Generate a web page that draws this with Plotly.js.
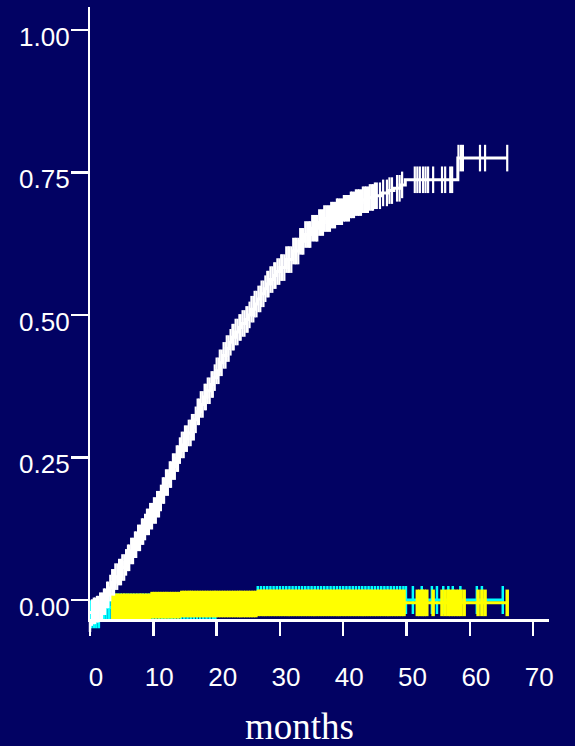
<!DOCTYPE html>
<html>
<head>
<meta charset="utf-8">
<script src="https://cdn.plot.ly/plotly-3.0.1.min.js"></script>
<style>html,body{margin:0;padding:0;background:#020263;}#chart{width:575px;height:746px;}</style>
</head>
<body>
<div id="chart"></div>
<script>
// ---- data ----
const xTicks = [0, 10, 20, 30, 40, 50, 60, 70];
const yTicks = [0, 0.25, 0.5, 0.75, 1];
const yTickLabels = ["0.00", "0.25", "0.50", "0.75", "1.00"];
const xTitle = "months";

// white curve (step function)
const whiteT = [0,0.5,1,1.5,2,2.5,3,3.5,4,4.5,5,5.5,6,6.5,7,7.5,8,8.5,9,9.5,10,10.5,11,11.5,12,12.5,13,13.5,14,14.5,15,15.5,16,16.5,17,17.5,18,18.5,19,19.5,20,20.5,21,21.5,22,22.5,23,23.5,24,24.5,25,25.5,26,26.5,27,27.5,28,28.5,29,29.5,30,31,32,33,34,35,36,37,38,39,40,41,42,43,44,45,46,47,48,49,49.8,58.1,65.9];
const whiteV = [-0.022,-0.019,-0.016,-0.010,-0.003,0.009,0.021,0.031,0.041,0.049,0.057,0.066,0.074,0.086,0.097,0.109,0.120,0.128,0.137,0.147,0.157,0.168,0.179,0.192,0.206,0.220,0.234,0.248,0.262,0.272,0.283,0.293,0.303,0.316,0.330,0.343,0.356,0.367,0.378,0.390,0.402,0.416,0.429,0.441,0.452,0.461,0.470,0.478,0.485,0.492,0.500,0.510,0.519,0.528,0.537,0.546,0.554,0.562,0.569,0.576,0.583,0.597,0.612,0.629,0.641,0.652,0.662,0.669,0.675,0.681,0.687,0.693,0.697,0.702,0.706,0.709,0.714,0.718,0.722,0.728,0.737,0.775,0.775];
const whiteCensor = [0.3,0.6,0.8,1.1,1.3,1.6,1.9,2.2,2.4,2.7,2.9,3.2,3.5,3.8,4.0,4.3,4.6,4.9,5.1,5.4,5.7,6.0,6.2,6.5,6.8,7.1,7.3,7.6,7.9,8.2,8.4,8.7,9.0,9.3,9.5,9.8,10.1,10.4,10.6,10.9,11.2,11.5,11.7,12.0,12.3,12.6,12.8,13.1,13.4,13.7,13.9,14.2,14.5,14.8,15.0,15.3,15.6,15.9,16.1,16.4,16.7,17.0,17.2,17.5,17.8,18.1,18.3,18.6,18.9,19.2,19.4,19.7,20.0,20.3,20.5,20.8,21.1,21.4,21.6,21.9,22.2,22.5,22.7,23.0,23.3,23.6,23.8,24.1,24.4,24.7,24.9,25.2,25.5,25.8,26.0,26.3,26.6,26.9,27.1,27.4,27.7,28.0,28.2,28.5,28.8,29.1,29.3,29.6,29.9,30.2,30.4,30.7,31.0,31.3,31.5,31.8,32.1,32.4,32.6,32.9,33.2,33.5,33.7,34.0,34.3,34.6,34.8,35.1,35.4,35.7,35.9,36.2,36.5,36.8,37.0,37.3,37.6,37.9,38.1,38.4,38.7,39.0,39.2,39.5,39.8,40.1,40.3,40.6,40.9,41.2,41.4,41.7,42.0,42.3,42.5,42.8,43.1,43.4,43.6,43.9,44.2,44.5,44.7,45.0,45.3,45.8,46.3,46.9,47.3,47.7,48.5,48.9,49.3,51.3,51.7,52.1,52.6,53.0,53.4,54.2,55.6,56.1,56.9,57.2,58.2,58.6,58.9,61.6,62.4,65.9];

// cyan curve
const cyanT = [0, 1.5, 26.4, 65.2];
const cyanV = [-0.025, -0.013, 0.0, 0.0];
const cyanCensor = [0.2,0.6,1.0,1.4,1.8,2.2,2.6,3.0,3.4,3.9,4.4,4.9,5.4,5.9,6.4,6.9,7.4,7.9,8.4,8.9,9.4,9.9,10.4,10.9,11.4,11.9,12.4,12.9,13.4,13.9,14.4,14.9,15.4,15.9,16.4,16.9,17.4,17.9,18.4,18.9,19.4,19.8,26.5,27.0,27.5,28.0,28.5,29.0,29.5,30.0,30.5,31.0,31.5,32.0,32.5,33.0,33.5,34.0,34.5,35.0,35.5,36.0,36.5,37.0,37.5,38.0,38.5,39.0,39.5,40.0,40.5,41.0,41.5,42.0,42.5,43.0,43.5,44.0,44.5,45.0,45.5,46.0,46.5,47.0,47.5,48.0,48.5,49.0,49.5,49.9,51.0,52.4,54.0,54.8,55.8,56.6,57.3,58.5,61.1,61.9,65.2];

// yellow curve
const yellowT = [3.5, 9.8, 14.5, 26.4, 65.9];
const yellowV = [-0.012, -0.009, -0.007, -0.005, -0.005];
const yellowCensor = [3.6,4.0,4.4,4.8,5.2,5.5,5.9,6.3,6.7,7.1,7.5,7.9,8.2,8.6,9.0,9.4,9.8,10.2,10.6,11.0,11.4,11.8,12.1,12.5,12.9,13.3,13.7,14.1,14.5,14.9,15.3,15.7,16.0,16.4,16.8,17.2,17.6,18.0,18.4,18.8,19.2,19.6,19.9,20.3,20.7,21.1,21.5,21.9,22.3,22.7,23.1,23.5,23.8,24.2,24.6,25.0,25.4,25.8,26.2,26.6,27.0,27.4,27.7,28.1,28.5,28.9,29.3,29.7,30.1,30.5,30.9,31.3,31.6,32.0,32.4,32.8,33.2,33.6,34.0,34.4,34.8,35.2,35.5,35.9,36.3,36.7,37.1,37.5,37.9,38.3,38.7,39.1,39.4,39.8,40.2,40.6,41.0,41.4,41.8,42.2,42.6,43.0,43.3,43.7,44.1,44.5,44.9,45.3,45.7,46.1,46.5,46.9,47.2,47.6,48.0,48.4,48.8,49.2,49.6,51.7,52.1,52.5,52.8,53.2,54.2,55.6,56.1,56.6,57.0,57.4,57.8,58.2,58.6,59.1,61.3,61.9,62.4,65.9];

// ---- helpers ----
function stepAt(T, V, t) {
  let v = V[0];
  for (let i = 0; i < T.length; i++) { if (T[i] <= t + 1e-9) v = V[i]; }
  return v;
}
function lineTrace(T, V, color) {
  return {x: T, y: V, type: 'scatter', mode: 'lines', line: {shape: 'hv', color: color, width: 3}, hoverinfo: 'skip', showlegend: false, cliponaxis: false};
}
function censorTrace(T, V, C, color, size, w) {
  return {x: C, y: C.map(t => stepAt(T, V, t)), type: 'scatter', mode: 'markers',
    marker: {symbol: 'line-ns', size: size, color: color, line: {color: color, width: w}},
    hoverinfo: 'skip', showlegend: false, cliponaxis: false};
}

const traces = [
  lineTrace(cyanT, cyanV, '#00FFFF'),
  censorTrace(cyanT, cyanV, cyanCensor, '#00FFFF', 20, 2.5),
  lineTrace(yellowT, yellowV, '#FFFF00'),
  censorTrace(yellowT, yellowV, yellowCensor, '#FFFF00', 19, 3.5),
  lineTrace(whiteT, whiteV, '#FFFFFF'),
  censorTrace(whiteT, whiteV, whiteCensor, '#FFFFFF', 19, 2.2)
];

const bg = '#020263';
const tickFont = {family: 'Arial, "Liberation Sans", sans-serif', size: 26, color: '#FFFFFF'};

const yLabelAnn = yTicks.map((v, i) => ({
  text: yTickLabels[i], xref: 'paper', yref: 'y', x: -0.0392, y: v, xanchor: 'right', yanchor: 'middle',
  yshift: -7, showarrow: false, font: tickFont
}));

const layout = {
  width: 575, height: 746,
  paper_bgcolor: bg, plot_bgcolor: bg,
  margin: {l: 90, r: 26, t: 7, b: 127, pad: 0},
  showlegend: false,
  xaxis: {
    range: [0, 72.5], tickvals: xTicks, ticktext: xTicks.map(String),
    showline: true, linecolor: '#FFFFFF', linewidth: 2.5,
    ticks: 'outside', ticklen: 14, tickwidth: 2.5, tickcolor: '#FFFFFF',
    showgrid: false, zeroline: false, tickfont: tickFont,
    ticklabelstandoff: 19, ticklabelshift: 6, fixedrange: true
  },
  yaxis: {
    range: [-0.0333, 1.040], tickvals: yTicks, showticklabels: false,
    showline: true, linecolor: '#FFFFFF', linewidth: 2.5,
    ticks: 'outside', ticklen: 17, tickwidth: 2.5, tickcolor: '#FFFFFF',
    showgrid: false, zeroline: false, fixedrange: true
  },
  shapes: [
    {type: 'line', xref: 'paper', yref: 'paper', x0: 0, x1: 0, y0: 0, y1: -0.0212, line: {color: '#FFFFFF', width: 2.5}}
  ],
  annotations: yLabelAnn.concat([
    {text: xTitle, xref: 'paper', yref: 'paper', x: 0.4575, y: -0.176, xanchor: 'center', yanchor: 'middle', showarrow: false,
     font: {family: '"Liberation Serif", "Times New Roman", serif', size: 37, color: '#FFFFFF'}}
  ])
};

Plotly.newPlot('chart', traces, layout, {displayModeBar: false, staticPlot: true});
</script>
</body>
</html>
